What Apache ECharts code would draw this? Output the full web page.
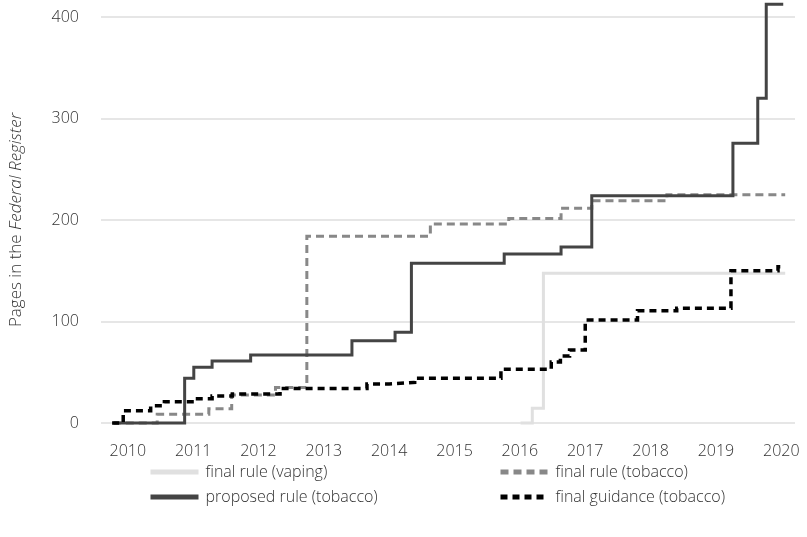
<!DOCTYPE html>
<html>
<head>
<meta charset="utf-8">
<script src="https://cdn.jsdelivr.net/npm/echarts@6/dist/echarts.min.js"></script>
<style>
html,body{margin:0;padding:0;background:#fff;}
#chart{width:807px;height:537px;}
</style>
</head>
<body>
<div id="chart"></div>
<script>
// Year ticks
const yearTicks = [2010, 2011, 2012, 2013, 2014, 2015, 2016, 2017, 2018, 2019, 2020];
const yTicks = [0, 100, 200, 300, 400];

// Step data: [decimal year, cumulative pages from that date on]
const vapingFinal = [
  [2016.01, 0], [2016.19, 14.5], [2016.36, 147.5], [2020.06, 147.5]
];
const tobaccoFinal = [
  [2009.77, 0], [2010.45, 8.5], [2011.24, 14], [2011.59, 27.5], [2012.26, 35],
  [2012.74, 184], [2014.63, 196], [2015.83, 201.5], [2016.63, 211.5],
  [2017.10, 219], [2018.25, 225], [2020.06, 225]
];
const tobaccoProposed = [
  [2009.79, 0], [2010.87, 44], [2011.01, 55], [2011.29, 61], [2011.88, 67],
  [2013.43, 81], [2014.09, 89.5], [2014.34, 157.5], [2015.76, 166.5],
  [2016.63, 173.5], [2017.10, 224], [2019.26, 275.5], [2019.64, 320],
  [2019.77, 412.5], [2020.03, 412.5]
];
const tobaccoGuidance = [
  [2009.76, 0], [2009.93, 12], [2010.35, 17], [2010.56, 21], [2011.01, 24],
  [2011.29, 26.5], [2011.60, 28.5], [2012.33, 34], [2013.66, 38.5],
  [2014.00, 40], [2014.39, 44], [2015.71, 53], [2016.48, 60], [2016.62, 66],
  [2016.76, 72], [2017.00, 101.5], [2017.80, 110.5], [2018.40, 113],
  [2019.23, 150], [2019.95, 154], [2020.06, 154]
];

const FONT = '"Open Sans", sans-serif';
const TXT = '#333';

const chart = echarts.init(document.getElementById('chart'), null, {renderer: 'canvas'});

function lineSeries(name, data, color, width, type, z) {
  return {
    name: name, type: 'line', data: data, step: 'end',
    symbol: 'none', showSymbol: false, clip: false, z: z,
    lineStyle: {color: color, width: width, type: type, cap: 'butt', join: 'miter'},
    itemStyle: {color: color},
    emphasis: {disabled: true},
    animation: false
  };
}

const legendCommon = {
  orient: 'vertical', top: 459, itemWidth: 48, itemHeight: 10,
  itemGap: 9, selectedMode: false,
  itemStyle: {opacity: 0, borderWidth: 0},
  lineStyle: {width: 5},
  textStyle: {color: TXT, fontFamily: FONT, fontWeight: 300, fontSize: 16, padding: [0, 0, 0, 2]}
};

chart.setOption({
  animation: false,
  backgroundColor: '#fff',
  grid: {left: 95, right: 12, top: 17, bottom: 114},
  xAxis: {
    type: 'value', min: 2009.59, max: 2020.21,
    axisLine: {show: false}, axisTick: {show: false}, splitLine: {show: false},
    axisLabel: {
      customValues: yearTicks, margin: 20,
      color: TXT, fontFamily: FONT, fontWeight: 300, fontSize: 16,
      formatter: v => String(Math.round(v))
    }
  },
  yAxis: {
    type: 'value', min: 0, max: 400, interval: 100,
    axisLine: {show: false}, axisTick: {show: false},
    splitLine: {show: true, lineStyle: {color: '#e6e6e6', width: 2}},
    axisLabel: {
      margin: 22, color: TXT, fontFamily: FONT, fontWeight: 300, fontSize: 16,
      customValues: yTicks
    },
    name: 'Pages in the {i|Federal Register}',
    nameLocation: 'middle', nameGap: 76, nameRotate: 90,
    nameTextStyle: {
      color: TXT, fontFamily: FONT, fontWeight: 300, fontSize: 17,
      rich: {i: {fontStyle: 'italic', color: TXT, fontFamily: FONT, fontWeight: 300, fontSize: 17}}
    }
  },
  legend: [
    Object.assign({data: ['final rule (vaping)', 'proposed rule (tobacco)'], left: 143}, legendCommon),
    Object.assign({data: ['final rule (tobacco)', 'final guidance (tobacco)'], left: 493}, legendCommon)
  ],
  series: [
    lineSeries('final rule (vaping)', vapingFinal, '#e0e0e0', 3, 'solid', 1),
    lineSeries('final rule (tobacco)', tobaccoFinal, '#888888', 3, [8, 5], 2),
    lineSeries('proposed rule (tobacco)', tobaccoProposed, '#444444', 3, 'solid', 3),
    lineSeries('final guidance (tobacco)', tobaccoGuidance, '#000000', 3.5, [7, 5], 4)
  ]
});
</script>
</body>
</html>
